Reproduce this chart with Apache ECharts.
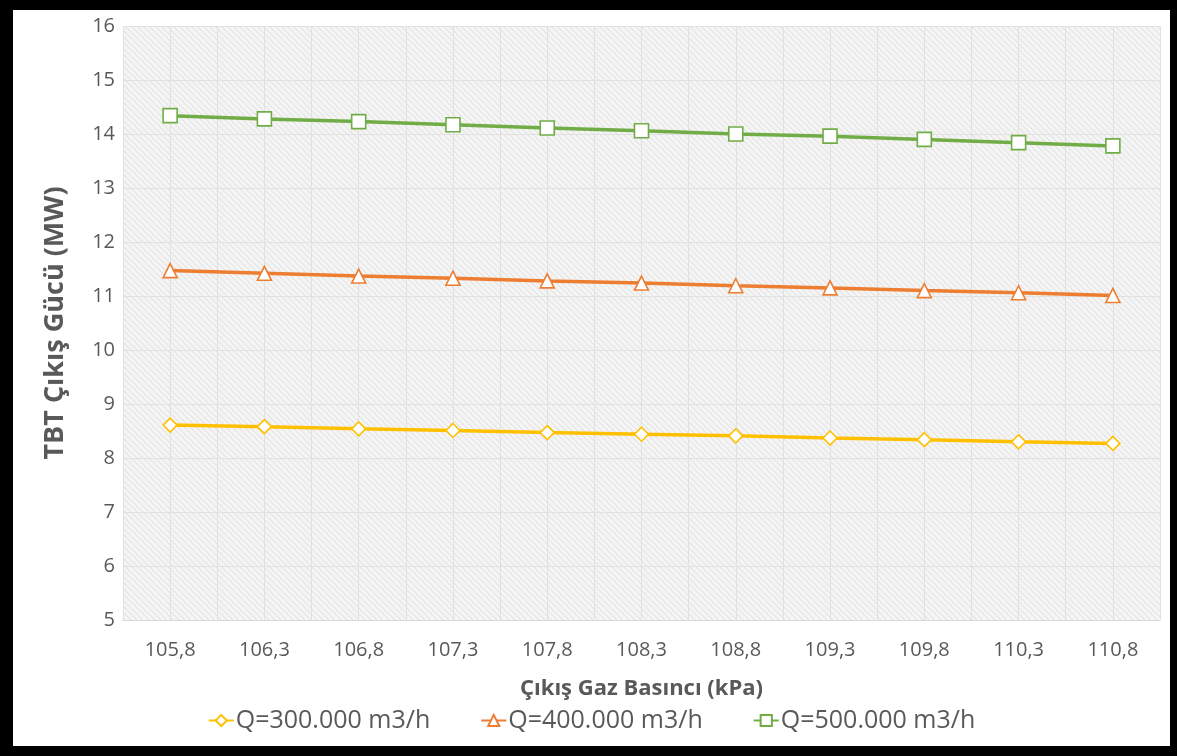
<!DOCTYPE html>
<html>
<head>
<meta charset="utf-8">
<script src="https://cdn.jsdelivr.net/npm/echarts@6/dist/echarts.min.js"></script>
<style>
  html, body { margin: 0; padding: 0; background: #000; }
  #frame { position: absolute; left: 13px; top: 10px; width: 1157px; height: 736px; background: #fff; }
  #chart { width: 100%; height: 100%; }
</style>
</head>
<body>
<div id="frame"><div id="chart"></div></div>
<script>
// Outlet gas pressure (kPa)
const pressures = ['105,8', '106,3', '106,8', '107,3', '107,8', '108,3', '108,8', '109,3', '109,8', '110,3', '110,8'];
// TBT output power (MW) for each flow rate
const q300 = [8.61, 8.58, 8.54, 8.51, 8.47, 8.44, 8.41, 8.37, 8.34, 8.30, 8.27];
const q400 = [11.47, 11.42, 11.37, 11.33, 11.28, 11.24, 11.19, 11.15, 11.10, 11.06, 11.01];
const q500 = [14.34, 14.28, 14.23, 14.17, 14.11, 14.06, 14.00, 13.96, 13.90, 13.84, 13.78];
const seriesNames = ['Q=300.000 m3/h', 'Q=400.000 m3/h', 'Q=500.000 m3/h'];

// fine diagonal hatch for the plot background
function hatch() {
  const c = document.createElement('canvas');
  c.width = 6; c.height = 6;
  const g = c.getContext('2d');
  g.fillStyle = '#f4f4f4';
  g.fillRect(0, 0, 6, 6);
  g.strokeStyle = '#dedede';
  g.lineWidth = 1;
  g.beginPath();
  g.moveTo(-1, -1); g.lineTo(7, 7);
  g.moveTo(-1, 5); g.lineTo(1, 7);
  g.moveTo(5, -1); g.lineTo(7, 1);
  g.stroke();
  return c;
}

const font = '"Open Sans", "Noto Sans", sans-serif';
const textGray = '#595959';
const gridColor = '#e1e1e1';

// gridlines at band centres and band edges: 2 per category + closing edge
const fineTicks = new Array(pressures.length * 2 + 1).fill('');

function lineSeries(name, data, color, symbol, size) {
  return {
    name: name,
    type: 'line',
    data: data,
    xAxisIndex: 0,
    symbol: symbol,
    symbolSize: size,
    showAllSymbol: true,
    lineStyle: { color: color, width: 3.5 },
    itemStyle: { color: '#ffffff', borderColor: color, borderWidth: 1.6 },
    emphasis: { disabled: true },
    z: 3
  };
}

const chart = echarts.init(document.getElementById('chart'));
chart.setOption({
  animation: false,
  textStyle: { fontFamily: font },
  grid: {
    left: 110, top: 16, width: 1037, height: 594,
    show: true,
    borderWidth: 0,
    backgroundColor: { image: hatch(), repeat: 'repeat' }
  },
  legend: {
    data: seriesNames,
    bottom: 8,
    left: 'center',
    itemWidth: 25,
    itemHeight: 14,
    itemGap: 50,
    textStyle: { color: textGray, fontSize: 25, fontFamily: font, padding: [0, 0, 0, -3] }
  },
  xAxis: [
    {
      type: 'category',
      data: pressures,
      boundaryGap: true,
      name: 'Çıkış Gaz Basıncı (kPa)',
      nameLocation: 'middle',
      nameGap: 58,
      nameTextStyle: { color: textGray, fontSize: 22, fontWeight: 'bold', fontFamily: font },
      axisLine: { show: true, lineStyle: { color: '#d9d9d9', width: 1 } },
      axisTick: { show: false },
      axisLabel: { color: textGray, fontSize: 20, margin: 20, fontFamily: font },
      splitLine: { show: false }
    },
    {
      type: 'category',
      data: fineTicks,
      boundaryGap: false,
      position: 'bottom',
      axisLine: { show: false },
      axisTick: { show: false },
      axisLabel: { show: false },
      splitLine: { show: true, interval: 0, lineStyle: { color: gridColor, width: 1 } }
    }
  ],
  yAxis: {
    type: 'value',
    min: 5,
    max: 16,
    interval: 1,
    name: 'TBT Çıkış Gücü (MW)',
    nameLocation: 'middle',
    nameGap: 54,
    nameTextStyle: { color: textGray, fontSize: 27, fontWeight: 'bold', fontFamily: font },
    axisLine: { show: false },
    axisTick: { show: false },
    axisLabel: { color: textGray, fontSize: 20, margin: 8, fontFamily: font },
    splitLine: { show: true, lineStyle: { color: gridColor, width: 1 } }
  },
  series: [
    lineSeries(seriesNames[0], q300, '#FFC000', 'diamond', 14),
    lineSeries(seriesNames[1], q400, '#ED7D31', 'triangle', 14),
    lineSeries(seriesNames[2], q500, '#70AD47', 'rect', 14)
  ]
});
</script>
</body>
</html>
